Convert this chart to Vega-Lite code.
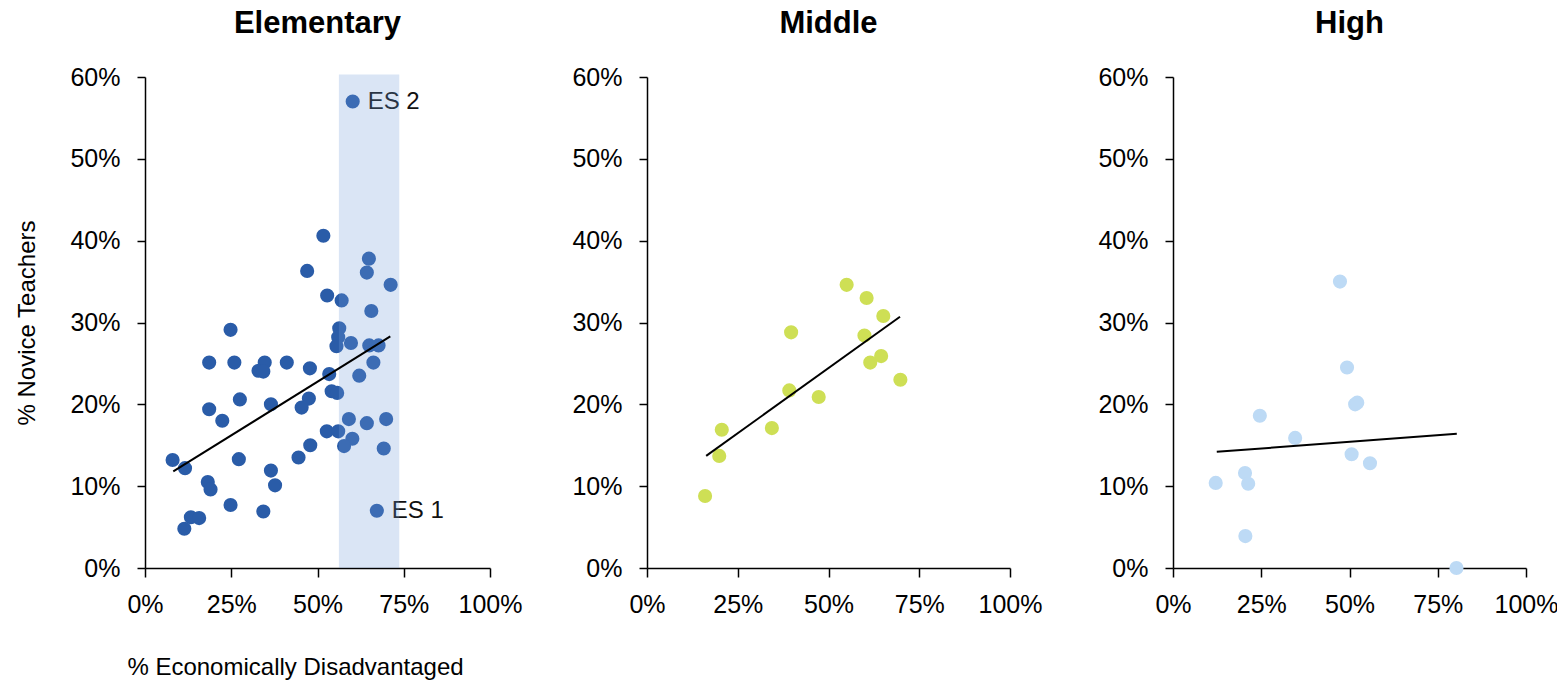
{
  "$schema": "https://vega.github.io/schema/vega-lite/v6.json",
  "padding": {"left": 15, "top": 8, "right": 5, "bottom": 5},
  "background": "white",
  "config": {
    "font": "Liberation Sans",
    "view": {"stroke": null},
    "axis": {"grid": false, "labelFontSize": 25, "labelColor": "black", "domainColor": "black", "tickColor": "black", "domainWidth": 1.5, "tickWidth": 1.5, "titleFontSize": 24, "titleFontWeight": "normal", "titleColor": "black", "labelFont": "Liberation Sans", "titleFont": "Liberation Sans"},
    "axisX": {"tickSize": 9, "labelPadding": 15, "labelFlush": false},
    "axisY": {"tickSize": 8, "labelPadding": 17},
    "title": {"fontSize": 31, "fontWeight": "bold", "color": "black", "font": "Liberation Sans", "offset": 25}
  },
  "datasets": {
    "elem": [
      {"x": 0.602, "y": 0.570}, {"x": 0.517, "y": 0.406}, {"x": 0.649, "y": 0.378}, {"x": 0.470, "y": 0.363},
      {"x": 0.643, "y": 0.361}, {"x": 0.712, "y": 0.346}, {"x": 0.528, "y": 0.333}, {"x": 0.570, "y": 0.327},
      {"x": 0.656, "y": 0.314}, {"x": 0.248, "y": 0.291}, {"x": 0.563, "y": 0.293}, {"x": 0.560, "y": 0.282},
      {"x": 0.555, "y": 0.271}, {"x": 0.597, "y": 0.275}, {"x": 0.650, "y": 0.272}, {"x": 0.677, "y": 0.272},
      {"x": 0.662, "y": 0.251}, {"x": 0.186, "y": 0.251}, {"x": 0.259, "y": 0.251}, {"x": 0.347, "y": 0.251},
      {"x": 0.329, "y": 0.241}, {"x": 0.343, "y": 0.240}, {"x": 0.411, "y": 0.251}, {"x": 0.478, "y": 0.244},
      {"x": 0.534, "y": 0.237}, {"x": 0.621, "y": 0.235}, {"x": 0.541, "y": 0.216}, {"x": 0.557, "y": 0.214},
      {"x": 0.275, "y": 0.206}, {"x": 0.475, "y": 0.207}, {"x": 0.454, "y": 0.196}, {"x": 0.365, "y": 0.200},
      {"x": 0.186, "y": 0.194}, {"x": 0.224, "y": 0.180}, {"x": 0.591, "y": 0.182}, {"x": 0.643, "y": 0.177},
      {"x": 0.699, "y": 0.182}, {"x": 0.527, "y": 0.167}, {"x": 0.560, "y": 0.167}, {"x": 0.601, "y": 0.158},
      {"x": 0.577, "y": 0.149}, {"x": 0.479, "y": 0.150}, {"x": 0.692, "y": 0.146}, {"x": 0.080, "y": 0.132},
      {"x": 0.272, "y": 0.133}, {"x": 0.445, "y": 0.135}, {"x": 0.116, "y": 0.122}, {"x": 0.365, "y": 0.119},
      {"x": 0.182, "y": 0.105}, {"x": 0.190, "y": 0.096}, {"x": 0.377, "y": 0.101}, {"x": 0.248, "y": 0.077},
      {"x": 0.343, "y": 0.069}, {"x": 0.672, "y": 0.070}, {"x": 0.133, "y": 0.062}, {"x": 0.157, "y": 0.061},
      {"x": 0.114, "y": 0.048}
    ],
    "elemLabels": [
      {"x": 0.602, "y": 0.570, "label": "ES 2"},
      {"x": 0.672, "y": 0.070, "label": "ES 1"}
    ],
    "band": [{"x1": 0.562, "x2": 0.737, "y1": 0, "y2": 0.603}],
    "elemTrend": [{"x": 0.082, "y": 0.118}, {"x": 0.711, "y": 0.283}],
    "middle": [
      {"x": 0.550, "y": 0.346}, {"x": 0.605, "y": 0.330}, {"x": 0.651, "y": 0.308}, {"x": 0.397, "y": 0.288},
      {"x": 0.599, "y": 0.284}, {"x": 0.645, "y": 0.259}, {"x": 0.615, "y": 0.251}, {"x": 0.698, "y": 0.230},
      {"x": 0.392, "y": 0.217}, {"x": 0.473, "y": 0.209}, {"x": 0.206, "y": 0.169}, {"x": 0.344, "y": 0.171},
      {"x": 0.199, "y": 0.137}, {"x": 0.160, "y": 0.088}
    ],
    "middleTrend": [{"x": 0.163, "y": 0.137}, {"x": 0.697, "y": 0.307}],
    "high": [
      {"x": 0.473, "y": 0.350}, {"x": 0.493, "y": 0.245}, {"x": 0.516, "y": 0.200}, {"x": 0.522, "y": 0.202},
      {"x": 0.246, "y": 0.186}, {"x": 0.346, "y": 0.159}, {"x": 0.506, "y": 0.139}, {"x": 0.558, "y": 0.128},
      {"x": 0.204, "y": 0.116}, {"x": 0.121, "y": 0.104}, {"x": 0.213, "y": 0.103}, {"x": 0.205, "y": 0.039},
      {"x": 0.803, "y": 0.0}
    ],
    "highTrend": [{"x": 0.124, "y": 0.142}, {"x": 0.804, "y": 0.164}]
  },
  "hconcat": [
    {
      "hconcat": [
        {
          "title": {"text": "Elementary"},
          "width": 345,
          "height": 491,
          "layer": [
            {
              "data": {"name": "elem"},
              "mark": {"type": "circle", "size": 200, "opacity": 1, "color": "#2A5CA8"},
              "encoding": {
                "x": {"field": "x", "type": "quantitative", "scale": {"domain": [0, 1]}, "axis": {"values": [0, 0.25, 0.5, 0.75, 1], "format": ".0%", "title": "% Economically Disadvantaged", "titleX": 150, "titleY": 106, "titleBaseline": "alphabetic", "titleAlign": "center"}},
                "y": {"field": "y", "type": "quantitative", "scale": {"domain": [0, 0.6]}, "axis": {"values": [0, 0.1, 0.2, 0.3, 0.4, 0.5, 0.6], "format": ".0%", "title": "% Novice Teachers", "titlePadding": 30}}
              }
            },
            {
              "data": {"name": "elemLabels"},
              "mark": {"type": "text", "align": "left", "baseline": "middle", "dx": 15, "fontSize": 24, "color": "#111111"},
              "encoding": {
                "x": {"field": "x", "type": "quantitative"},
                "y": {"field": "y", "type": "quantitative"},
                "text": {"field": "label"}
              }
            },
            {
              "data": {"name": "band"},
              "mark": {"type": "rect", "color": "#719BD8", "opacity": 0.26},
              "encoding": {
                "x": {"field": "x1", "type": "quantitative"},
                "x2": {"field": "x2"},
                "y": {"field": "y1", "type": "quantitative"},
                "y2": {"field": "y2"}
              }
            },
            {
              "data": {"name": "elemTrend"},
              "mark": {"type": "line", "color": "black", "strokeWidth": 2},
              "encoding": {
                "x": {"field": "x", "type": "quantitative"},
                "y": {"field": "y", "type": "quantitative"}
              }
            }
          ]
        },
        {
          "title": {"text": "Middle"},
          "width": 363,
          "height": 491,
          "layer": [
            {
              "data": {"name": "middle"},
              "mark": {"type": "circle", "size": 200, "opacity": 1, "color": "#CEDF55"},
              "encoding": {
                "x": {"field": "x", "type": "quantitative", "scale": {"domain": [0, 1]}, "axis": {"values": [0, 0.25, 0.5, 0.75, 1], "format": ".0%", "title": null}},
                "y": {"field": "y", "type": "quantitative", "scale": {"domain": [0, 0.6]}, "axis": {"values": [0, 0.1, 0.2, 0.3, 0.4, 0.5, 0.6], "format": ".0%", "title": null}}
              }
            },
            {
              "data": {"name": "middleTrend"},
              "mark": {"type": "line", "color": "black", "strokeWidth": 2},
              "encoding": {
                "x": {"field": "x", "type": "quantitative"},
                "y": {"field": "y", "type": "quantitative"}
              }
            }
          ]
        }
      ],
      "spacing": 49
    },
    {
      "title": {"text": "High"},
      "width": 353,
      "height": 491,
      "layer": [
        {
          "data": {"name": "high"},
          "mark": {"type": "circle", "size": 200, "opacity": 1, "color": "#BDDAF5"},
          "encoding": {
            "x": {"field": "x", "type": "quantitative", "scale": {"domain": [0, 1]}, "axis": {"values": [0, 0.25, 0.5, 0.75, 1], "format": ".0%", "title": null}},
            "y": {"field": "y", "type": "quantitative", "scale": {"domain": [0, 0.6]}, "axis": {"values": [0, 0.1, 0.2, 0.3, 0.4, 0.5, 0.6], "format": ".0%", "title": null}}
          }
        },
        {
          "data": {"name": "highTrend"},
          "mark": {"type": "line", "color": "black", "strokeWidth": 2},
          "encoding": {
            "x": {"field": "x", "type": "quantitative"},
            "y": {"field": "y", "type": "quantitative"}
          }
        }
      ]
    }
  ],
  "spacing": 55
}
